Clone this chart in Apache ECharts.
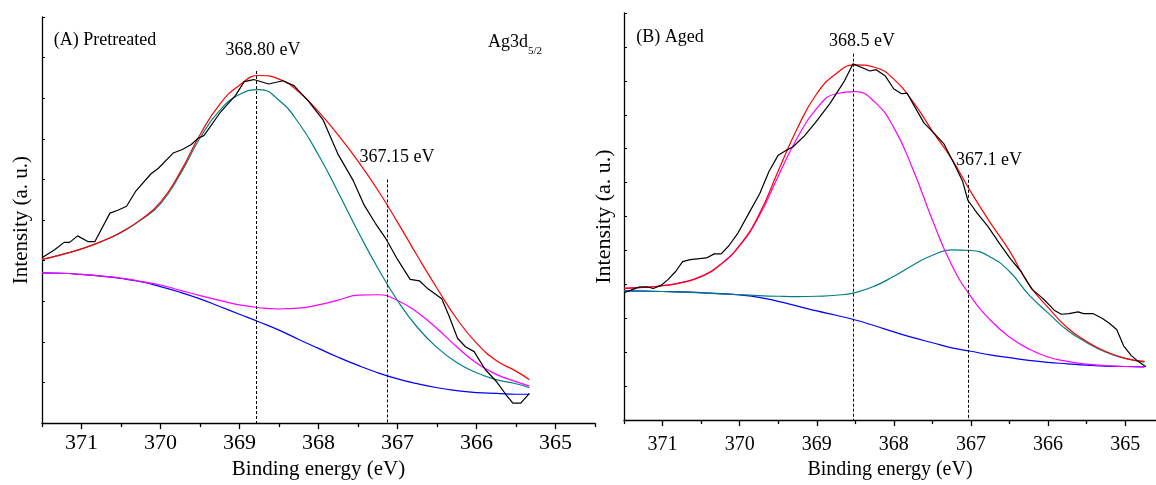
<!DOCTYPE html>
<html>
<head>
<meta charset="utf-8" />
<title>Ag3d5/2 XPS</title>
<script src="https://cdn.jsdelivr.net/npm/echarts@6/dist/echarts.min.js"></script>
<style>
	html, body { margin: 0; padding: 0; background: #fff; }
	#chart { width: 1156px; height: 485px; }
</style>
</head>
<body>
<div id="chart"></div>
<script type="text/javascript">
// tick labels on the energy axes
var xLabels = [365, 366, 367, 368, 369, 370, 371];
var xHalfTicks = [364.5, 365.5, 366.5, 367.5, 368.5, 369.5, 370.5, 371.5];

// (A) Pretreated - fitted curves on a 0.25 eV grid
var aEnergy = [371.5, 371.25, 371.0, 370.75, 370.5, 370.25, 370.0, 369.75, 369.5, 369.25, 369.0, 368.75, 368.5, 368.25, 368.0, 367.75, 367.5, 367.25, 367.0, 366.75, 366.5, 366.25, 366.0, 365.75, 365.5, 365.33];
var aFit = [4.03, 4.15, 4.29, 4.47, 4.70, 5.01, 5.44, 6.18, 7.10, 7.85, 8.32, 8.56, 8.47, 8.16, 7.67, 7.09, 6.45, 5.74, 4.95, 4.12, 3.32, 2.57, 1.97, 1.54, 1.28, 1.07];
var aPeak1 = [4.03, 4.15, 4.29, 4.47, 4.69, 5.00, 5.40, 6.13, 7.02, 7.70, 8.09, 8.21, 7.95, 7.39, 6.60, 5.68, 4.72, 3.82, 3.02, 2.36, 1.86, 1.49, 1.24, 1.07, 0.97, 0.87];
var aPeak2 = [3.70, 3.69, 3.66, 3.62, 3.57, 3.49, 3.40, 3.27, 3.14, 3.02, 2.91, 2.84, 2.81, 2.83, 2.91, 3.03, 3.15, 3.16, 3.02, 2.73, 2.33, 1.88, 1.48, 1.20, 1.02, 0.91];
var aBase = [3.70, 3.69, 3.66, 3.62, 3.56, 3.48, 3.36, 3.22, 3.06, 2.87, 2.68, 2.49, 2.29, 2.06, 1.84, 1.62, 1.42, 1.24, 1.09, 0.97, 0.87, 0.80, 0.75, 0.73, 0.71, 0.71];
// (A) measured spectrum
var aRawE = [371.50, 371.34, 371.22, 371.15, 371.05, 370.92, 370.83, 370.64, 370.54, 370.43, 370.31, 370.12, 370.03, 369.84, 369.73, 369.61, 369.52, 369.45, 369.24, 369.05, 368.94, 368.82, 368.63, 368.45, 368.31, 368.12, 367.94, 367.75, 367.56, 367.42, 367.28, 367.15, 367.00, 366.84, 366.72, 366.61, 366.44, 366.35, 366.24, 366.14, 366.03, 365.89, 365.75, 365.63, 365.54, 365.44, 365.33];
var aRaw = [4.07, 4.27, 4.45, 4.45, 4.61, 4.47, 4.47, 5.17, 5.24, 5.34, 5.72, 6.14, 6.27, 6.65, 6.73, 6.86, 7.02, 7.08, 7.66, 8.07, 8.41, 8.46, 8.35, 8.43, 8.31, 7.91, 7.46, 6.61, 5.97, 5.36, 4.92, 4.55, 4.03, 3.54, 3.50, 3.30, 3.06, 2.65, 2.09, 1.88, 1.76, 1.32, 1.03, 0.71, 0.49, 0.49, 0.73];
// (A) peak markers [energy, top of dashed line]
var aMarks = [[368.79, 8.67], [367.13, 6.0]];

// (B) Aged - fitted curves
var bEnergy = [371.5, 371.25, 371.0, 370.75, 370.5, 370.25, 370.0, 369.75, 369.5, 369.25, 369.0, 368.75, 368.5, 368.25, 368.0, 367.75, 367.5, 367.25, 367.0, 366.75, 366.5, 366.25, 366.0, 365.75, 365.5, 365.25, 365.0, 364.75];
var bFit = [3.88, 3.91, 3.96, 4.05, 4.23, 4.58, 5.15, 6.05, 7.34, 8.61, 9.62, 10.21, 10.47, 10.40, 10.05, 9.38, 8.52, 7.70, 6.72, 5.82, 4.99, 4.00, 3.32, 2.72, 2.32, 2.02, 1.82, 1.73];
var bPeak1 = [3.88, 3.91, 3.96, 4.06, 4.24, 4.59, 5.14, 6.00, 7.19, 8.33, 9.19, 9.62, 9.68, 9.38, 8.62, 7.38, 5.90, 4.57, 3.64, 2.95, 2.45, 2.10, 1.86, 1.73, 1.65, 1.61, 1.58, 1.57];
var bPeak2 = [3.81, 3.80, 3.79, 3.77, 3.75, 3.72, 3.70, 3.67, 3.65, 3.64, 3.65, 3.68, 3.76, 3.95, 4.24, 4.57, 4.86, 5.02, 5.00, 4.81, 4.38, 3.70, 3.16, 2.65, 2.29, 2.00, 1.82, 1.71];
var bBase = [3.81, 3.80, 3.79, 3.78, 3.76, 3.73, 3.69, 3.62, 3.50, 3.36, 3.22, 3.09, 2.95, 2.78, 2.60, 2.43, 2.28, 2.13, 2.03, 1.92, 1.84, 1.76, 1.70, 1.66, 1.62, 1.59, 1.58, 1.57];
// (B) measured spectrum
var bRawE = [371.49, 371.41, 371.31, 371.21, 371.12, 371.02, 370.93, 370.83, 370.74, 370.64, 370.43, 370.33, 370.24, 370.14, 370.02, 369.88, 369.74, 369.62, 369.50, 369.40, 369.31, 369.16, 369.02, 368.83, 368.64, 368.53, 368.40, 368.31, 368.23, 368.11, 368.00, 367.90, 367.83, 367.73, 367.61, 367.49, 367.35, 367.21, 367.11, 367.04, 366.92, 366.78, 366.64, 366.49, 366.35, 366.21, 366.11, 366.02, 365.92, 365.83, 365.73, 365.61, 365.54, 365.42, 365.30, 365.21, 365.11, 365.02, 364.92, 364.82, 364.73];
var bRaw = [3.76, 3.83, 3.92, 3.93, 3.88, 3.97, 4.14, 4.38, 4.67, 4.73, 4.78, 4.90, 4.90, 5.14, 5.52, 6.10, 6.67, 7.33, 7.81, 7.95, 8.05, 8.38, 8.76, 9.33, 10.00, 10.50, 10.38, 10.29, 10.33, 10.14, 9.76, 9.62, 9.64, 9.24, 8.76, 8.48, 8.14, 7.52, 7.05, 6.48, 6.10, 5.71, 5.24, 4.76, 4.38, 3.86, 3.67, 3.48, 3.24, 3.12, 3.14, 3.19, 3.14, 3.14, 3.00, 2.86, 2.67, 2.19, 1.90, 1.71, 1.57];
var bMarks = [[368.53, 10.8], [367.03, 7.23]];

var serif = "'Liberation Serif', 'Times New Roman', serif";

function pairs(xs, ys) {
	var out = [];
	for (var i = 0; i < xs.length; i++) out.push([xs[i], ys[i]]);
	return out;
}

function curve(name, xi, xs, ys, color, smooth) {
	return {
		name: name, type: 'line', xAxisIndex: xi, yAxisIndex: xi / 2,
		data: pairs(xs, ys), showSymbol: false, smooth: smooth, silent: true,
		lineStyle: { color: color, width: 1.2 }
	};
}

function dashes(marks) {
	var d = [];
	for (var i = 0; i < marks.length; i++) {
		d.push([{ coord: [marks[i][0], marks[i][1]] }, { coord: [marks[i][0], 0] }]);
	}
	return {
		silent: true, symbol: ['none', 'none'], label: { show: false },
		lineStyle: { color: '#000', type: [3, 2], width: 1 }, data: d
	};
}

function mainX(grid, min, fs, margin, gap, nfs) {
	return {
		gridIndex: grid, type: 'value', min: min, max: 371.5, inverse: true, position: 'bottom',
		name: 'Binding energy (eV)', nameLocation: 'middle', nameGap: gap,
		nameTextStyle: { fontFamily: serif, fontSize: nfs, color: '#000' },
		axisLine: { show: true, lineStyle: { color: '#000', width: 1.3 } },
		axisTick: { show: true, customValues: xLabels, length: 6, lineStyle: { color: '#000', width: 1.3 } },
		axisLabel: { customValues: xLabels, fontFamily: serif, fontSize: fs, color: '#000', margin: margin },
		splitLine: { show: false }
	};
}

function minorX(grid, min) {
	return {
		gridIndex: grid, type: 'value', min: min, max: 371.5, inverse: true, position: 'bottom',
		axisLine: { show: false },
		axisTick: { show: true, customValues: xHalfTicks, length: 4, lineStyle: { color: '#000', width: 1.3 } },
		axisLabel: { show: false },
		splitLine: { show: false }
	};
}

function yAx(grid, max, gap, nfs) {
	return {
		gridIndex: grid, type: 'value', min: 0, max: max, interval: 1,
		name: 'Intensity (a. u.)', nameLocation: 'middle', nameGap: gap,
		nameTextStyle: { fontFamily: serif, fontSize: nfs, color: '#000' },
		axisLine: { show: true, lineStyle: { color: '#000', width: 1.3 } },
		axisTick: { show: true, inside: true, length: 3, lineStyle: { color: '#000' } },
		axisLabel: { show: false },
		splitLine: { show: false }
	};
}

function label(x, y, text, size) {
	return {
		type: 'text', x: x, y: y, silent: true,
		style: { text: text, fontFamily: serif, fontSize: size, fill: '#000', align: 'center', verticalAlign: 'middle' }
	};
}

var chart = echarts.init(document.getElementById('chart'));

var baseA = curve('bgA', 0, aEnergy, aBase, '#0000ff', true);
baseA.markLine = dashes(aMarks);
var baseB = curve('bgB', 2, bEnergy, bBase, '#0000ff', true);
baseB.markLine = dashes(bMarks);

var option = {
	animation: false,
	backgroundColor: '#fff',
	grid: [
		{ left: 42, top: 17, width: 553, height: 413 },
		{ left: 624, top: 13, width: 532, height: 420 }
	],
	xAxis: [
		mainX(0, 364.5, 22, 9, 30, 21),
		minorX(0, 364.5),
		mainX(1, 364.6, 20, 15, 34, 20),
		minorX(1, 364.6)
	],
	yAxis: [
		yAx(0, 10, 10, 21),
		yAx(1, 12, 9, 22)
	],
	series: [
		baseA,
		curve('peak2A', 0, aEnergy, aPeak2, '#ff00ff', true),
		curve('peak1A', 0, aEnergy, aPeak1, '#008080', true),
		curve('fitA', 0, aEnergy, aFit, '#ff0000', true),
		curve('rawA', 0, aRawE, aRaw, '#000000', false),
		baseB,
		curve('peak2B', 2, bEnergy, bPeak2, '#008080', true),
		curve('peak1B', 2, bEnergy, bPeak1, '#ff00ff', true),
		curve('fitB', 2, bEnergy, bFit, '#ff0000', true),
		curve('rawB', 2, bRawE, bRaw, '#000000', false)
	],
	graphic: [
		label(105, 40, '(A) Pretreated', 18),
		label(263, 50, '368.80 eV', 18),
		label(508, 42, 'Ag3d', 18),
		label(535, 51, '5/2', 11),
		label(397, 157, '367.15 eV', 18),
		label(670, 37, '(B) Aged', 18),
		label(862, 41, '368.5 eV', 18),
		label(989, 160, '367.1 eV', 18)
	]
};

chart.setOption(option);
</script>
</body>
</html>
